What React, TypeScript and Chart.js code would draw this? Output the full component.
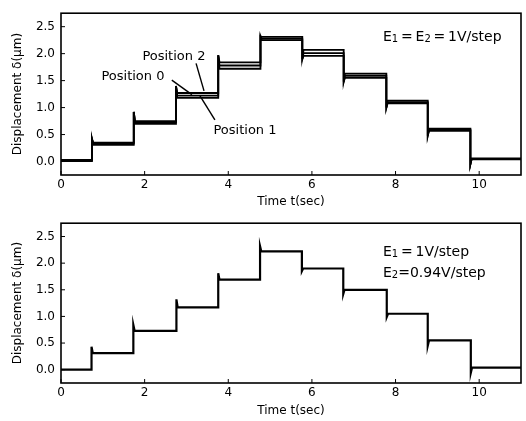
import React, { useEffect, useRef } from "react";
import { Chart, registerables } from "chart.js";

Chart.register(...registerables);

// ---- data ----
const xTicks = [0, 2, 4, 6, 8, 10];
const yTicks = [0, 0.5, 1.0, 1.5, 2.0, 2.5];
const tEnd = 11;

// upper panel (E1 = E2 = 1V/step)
const stepTimesTop = [0.74, 1.74, 2.75, 3.76, 4.77, 5.77, 6.76, 7.78, 8.77, 9.79];
const levelsPos2 = [0.03, 0.35, 0.75, 1.27, 1.84, 2.31, 2.07, 1.63, 1.13, 0.61, 0.06];
const levelsPos0 = [0.02, 0.33, 0.73, 1.22, 1.78, 2.28, 2.01, 1.59, 1.1, 0.59, 0.05];
const levelsPos1 = [0.01, 0.31, 0.7, 1.18, 1.72, 2.25, 1.96, 1.55, 1.08, 0.57, 0.04];
const spikesTop = [0.42, 0.92, 1.4, 1.97, 2.32, 1.9, 1.48, 1.0, 0.48, -0.05];

// lower panel (E1 = 1V/step, E2 = 0.94V/step)
const stepTimesBottom = [0.73, 1.73, 2.76, 3.76, 4.76, 5.76, 6.75, 7.79, 8.77, 9.8];
const levelsBottom = [0.0, 0.31, 0.73, 1.17, 1.69, 2.22, 1.9, 1.5, 1.05, 0.55, 0.04];
const spikesBottom = [0.43, 0.84, 1.32, 1.81, 2.32, 1.85, 1.42, 0.99, 0.45, -0.06];

const FONT = "'DejaVu Sans', sans-serif";

type Pt = { x: number; y: number };

function buildSteps(times: number[], levels: number[], spikes: number[]): Pt[] {
  const pts: Pt[] = [{ x: 0, y: levels[0] }];
  for (let i = 0; i < times.length; i++) {
    pts.push({ x: times[i], y: levels[i] });
    pts.push({ x: times[i], y: spikes[i] });
    pts.push({ x: times[i] + 0.03, y: levels[i + 1] });
  }
  pts.push({ x: tEnd, y: levels[levels.length - 1] });
  return pts;
}

type Seg = { t: string; sub?: boolean };
type Note = { x: number; y: number; segs: Seg[]; align: "left" | "center"; size: number };
type Lead = { x1: number; y1: number; x2: number; y2: number };

function makePlugin(notes: Note[], leads: Lead[]) {
  return {
    id: "frameNotes",
    afterDraw(chart: any) {
      const { ctx, chartArea } = chart;
      const { left, right, top, bottom } = chartArea;
      const xs = chart.scales.x;
      const ys = chart.scales.y;
      ctx.save();
      ctx.strokeStyle = "#000";
      ctx.lineWidth = 1.6;
      ctx.strokeRect(left, top, right - left, bottom - top);
      ctx.lineWidth = 1;
      ctx.beginPath();
      xTicks.forEach((v) => {
        const px = xs.getPixelForValue(v);
        ctx.moveTo(px, bottom);
        ctx.lineTo(px, bottom - 4);
      });
      yTicks.forEach((v) => {
        const py = ys.getPixelForValue(v);
        ctx.moveTo(left, py);
        ctx.lineTo(left + 4, py);
      });
      ctx.stroke();

      ctx.lineWidth = 1.4;
      leads.forEach((l) => {
        ctx.beginPath();
        ctx.moveTo(xs.getPixelForValue(l.x1), ys.getPixelForValue(l.y1));
        ctx.lineTo(xs.getPixelForValue(l.x2), ys.getPixelForValue(l.y2));
        ctx.stroke();
      });

      ctx.fillStyle = "#000";
      ctx.textBaseline = "middle";
      ctx.textAlign = "left";
      notes.forEach((n) => {
        const big = `${n.size}px ${FONT}`;
        const small = `${Math.round(n.size * 0.7)}px ${FONT}`;
        let w = 0;
        n.segs.forEach((s) => {
          ctx.font = s.sub ? small : big;
          w += ctx.measureText(s.t).width;
        });
        let px = xs.getPixelForValue(n.x);
        if (n.align === "center") px -= w / 2;
        const py = ys.getPixelForValue(n.y);
        n.segs.forEach((s) => {
          ctx.font = s.sub ? small : big;
          ctx.fillText(s.t, px, s.sub ? py + 2 : py);
          px += ctx.measureText(s.t).width;
        });
      });
      ctx.restore();
    },
  };
}

function makeConfig(datasets: any[], xAxisH: number, padTop: number, titlePadBottom: number, plugin: any) {
  return {
    type: "line",
    data: { datasets },
    plugins: [plugin],
    options: {
      animation: false,
      responsive: false,
      devicePixelRatio: 1,
      layout: { padding: { top: padTop, right: 5, left: 0, bottom: 0 } },
      plugins: { legend: { display: false }, tooltip: { enabled: false } },
      elements: { point: { radius: 0 }, line: { tension: 0 } },
      scales: {
        x: {
          type: "linear",
          min: 0,
          max: tEnd,
          afterBuildTicks: (s: any) => {
            s.ticks = xTicks.map((v) => ({ value: v }));
          },
          afterFit: (s: any) => {
            s.height = xAxisH;
          },
          grid: { display: false, drawTicks: false },
          border: { display: false },
          ticks: {
            color: "#000",
            font: { family: FONT, size: 12 },
            padding: 3,
            maxRotation: 0,
            callback: (v: any) => String(v),
          },
          title: {
            display: true,
            text: "Time t(sec)",
            color: "#000",
            font: { family: FONT, size: 12 },
            padding: { top: 0, bottom: titlePadBottom },
          },
        },
        y: {
          type: "linear",
          min: -0.25,
          max: 2.75,
          afterBuildTicks: (s: any) => {
            s.ticks = yTicks.map((v) => ({ value: v }));
          },
          afterFit: (s: any) => {
            s.width = 61;
          },
          grid: { display: false, drawTicks: false },
          border: { display: false },
          ticks: {
            color: "#000",
            font: { family: FONT, size: 12 },
            padding: 6,
            callback: (v: any) => Number(v).toFixed(1),
          },
          title: {
            display: true,
            text: "Displacement δ(μm)",
            color: "#000",
            font: { family: FONT, size: 12 },
            padding: { top: 11, bottom: 0 },
          },
        },
      },
    },
  };
}

const lineStyle = { borderColor: "#000", borderWidth: 1.8, fill: false, pointRadius: 0 };

export default function App() {
  const topRef = useRef<HTMLCanvasElement>(null);
  const botRef = useRef<HTMLCanvasElement>(null);

  useEffect(() => {
    const topNotes: Note[] = [
      { x: 2.7, y: 1.94, segs: [{ t: "Position 2" }], align: "center", size: 13 },
      { x: 1.72, y: 1.58, segs: [{ t: "Position 0" }], align: "center", size: 13 },
      { x: 4.4, y: 0.58, segs: [{ t: "Position 1" }], align: "center", size: 13 },
      {
        x: 7.7,
        y: 2.3,
        segs: [{ t: "E" }, { t: "1", sub: true }, { t: "\u2009=\u2009E" }, { t: "2", sub: true }, { t: "\u2009=\u20091V/step" }],
        align: "left",
        size: 14,
      },
    ];
    const topLeads: Lead[] = [
      { x1: 3.23, y1: 1.82, x2: 3.42, y2: 1.31 },
      { x1: 2.65, y1: 1.51, x2: 3.13, y2: 1.24 },
      { x1: 3.68, y1: 0.77, x2: 3.32, y2: 1.22 },
    ];
    const botNotes: Note[] = [
      { x: 7.7, y: 2.2, segs: [{ t: "E" }, { t: "1", sub: true }, { t: "\u2009=\u20091V/step" }], align: "left", size: 14 },
      { x: 7.7, y: 1.81, segs: [{ t: "E" }, { t: "2", sub: true }, { t: "=0.94V/step" }], align: "left", size: 14 },
    ];

    const topChart = new Chart(
      topRef.current as HTMLCanvasElement,
      makeConfig(
        [
          { label: "Position 2", data: buildSteps(stepTimesTop, levelsPos2, spikesTop), ...lineStyle },
          { label: "Position 0", data: buildSteps(stepTimesTop, levelsPos0, spikesTop), ...lineStyle },
          { label: "Position 1", data: buildSteps(stepTimesTop, levelsPos1, spikesTop), ...lineStyle },
        ],
        35,
        8,
        1,
        makePlugin(topNotes, topLeads)
      ) as any
    );
    const botChart = new Chart(
      botRef.current as HTMLCanvasElement,
      makeConfig(
        [{ label: "Position", data: buildSteps(stepTimesBottom, levelsBottom, spikesBottom), ...lineStyle, borderWidth: 2.2 }],
        38,
        4,
        3,
        makePlugin(botNotes, [])
      ) as any
    );
    return () => {
      topChart.destroy();
      botChart.destroy();
    };
  }, []);

  return (
    <div style={{ position: "fixed", left: 0, top: 0, width: 526, height: 421, background: "#fff" }}>
      <canvas ref={topRef} width={526} height={210} style={{ position: "absolute", left: 0, top: 0 }} />
      <canvas ref={botRef} width={526} height={211} style={{ position: "absolute", left: 0, top: 210 }} />
    </div>
  );
}
